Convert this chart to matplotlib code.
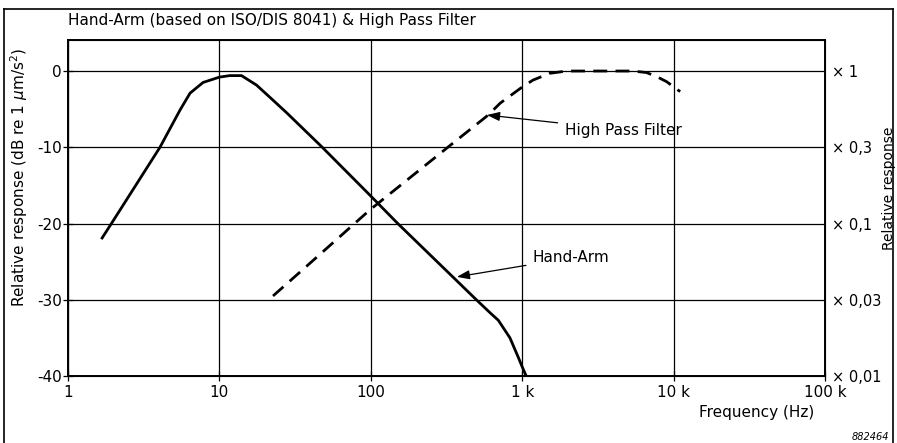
import numpy as np
import matplotlib.pyplot as plt
from matplotlib.lines import Line2D

plt.rcParams['font.family'] = ['DejaVu Sans']

# Hand-Arm weighting
ha_freq = [1.68, 1.95, 4.05, 5.5, 6.4, 7.8, 10, 11.7, 14, 17.6, 21.7, 27.9, 47.8, 100, 150.7,
           498, 613, 696, 830, 940, 1000, 1063]
ha_db = [-21.9, -19.9, -10, -5.1, -2.9, -1.5, -0.8, -0.6, -0.6, -1.85, -3.5, -5.5, -10, -16.4, -20,
         -30, -31.7, -32.7, -35.0, -37.5, -38.8, -40]

# High pass filter
hp_freq = [22.6, 36.7, 98.8, 318, 594, 717, 1000, 1176, 1516, 1970, 5380, 6620, 7760, 9000, 11050]
hp_db = [-29.5, -25.8, -18.2, -10.1, -5.8, -4.2, -2.1, -1.2, -0.3, 0, 0, -0.2, -0.75, -1.4, -2.7]

x_ticks = [1, 10, 100, 1000, 10000, 100000]
x_labels = ['1', '10', '100', '1 k', '10 k', '100 k']
y_ticks = [0, -10, -20, -30, -40]
right_labels = ['× 1', '× 0,3', '× 0,1', '× 0,03', '× 0,01']

W, H = 897, 443
fig = plt.figure(figsize=(W / 100, H / 100), dpi=100)
ax = fig.add_axes([68 / W, 1 - 376 / H, (825 - 68) / W, (376 - 40) / H])

ax.plot(ha_freq, ha_db, color='black', lw=2.0, solid_joinstyle='round')
ax.plot(hp_freq, hp_db, color='black', lw=2.0, dashes=(5, 3))

ax.set_xscale('log')
ax.set_xlim(1, 100000)
ax.set_ylim(-40, 4.07)
ax.set_xticks(x_ticks)
ax.set_xticklabels(x_labels)
ax.xaxis.set_minor_locator(plt.NullLocator())
ax.set_yticks(y_ticks)
ax.set_yticklabels([str(v) for v in y_ticks])
ax.grid(True, color='black', lw=0.9)
ax.tick_params(axis='both', labelsize=11, direction='inout', length=7, width=0.9, colors='black')
ax.tick_params(axis='x', pad=3)
ax.tick_params(axis='y', pad=1)
for s in ax.spines.values():
    s.set_linewidth(1.4)
ax.set_ylabel('Relative response (dB re 1 $\\mu$m/s$^2$)', fontsize=11)
ax.yaxis.set_label_coords((30 - 68) / (825 - 68), 0.59)

ax2 = ax.twinx()
ax2.set_ylim(ax.get_ylim())
ax2.set_yticks(y_ticks)
ax2.set_yticklabels(right_labels)
ax2.tick_params(axis='y', labelsize=10.5, length=0, pad=5)
ax2.set_ylabel('Relative response', fontsize=10)
ax2.yaxis.set_label_coords((882 - 68) / (825 - 68), 0.56)

fig.text(68 / W, 1 - 20 / H, 'Hand-Arm (based on ISO/DIS 8041) & High Pass Filter',
         fontsize=11, va='center', ha='left')
fig.text(814 / W, 1 - 413 / H, 'Frequency (Hz)', fontsize=11, ha='right', va='center')
fig.text(889 / W, 1 - 437 / H, '882464', fontsize=7, style='italic', ha='right', va='center')

arrow = dict(arrowstyle='-|>,head_length=0.7,head_width=0.25', color='black', lw=0.9,
             shrinkA=3, shrinkB=0)
ax.annotate('High Pass Filter', xy=(585, -5.77), xytext=(1906, -7.74),
            fontsize=11, va='center', ha='left', arrowprops=arrow)
ax.annotate('Hand-Arm', xy=(370, -27.0), xytext=(1176, -24.5),
            fontsize=11, va='center', ha='left', arrowprops=arrow)

# outer frame
for xs, ys in [([4, 4], [443, 9]), ([4, 893], [9, 9]), ([893, 893], [9, 443])]:
    fig.add_artist(Line2D([x / W for x in xs], [1 - y / H for y in ys],
                          transform=fig.transFigure, color='black', lw=1.2))

fig.savefig('out.png', dpi=100)
